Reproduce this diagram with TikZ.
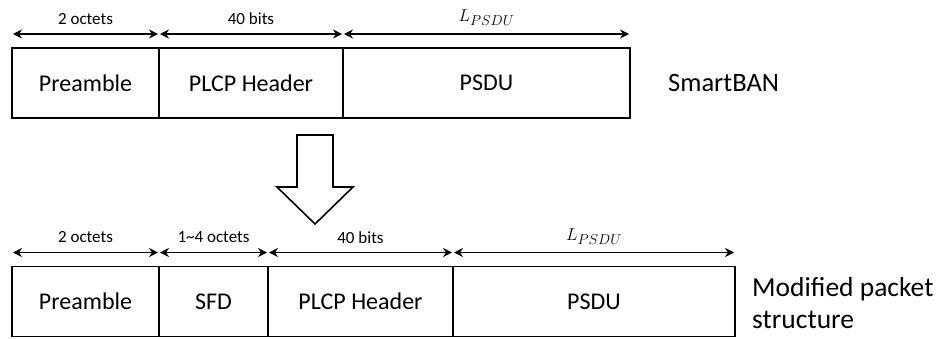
\documentclass[tikz,border=0pt]{standalone}
\usepackage{fontspec}
\setmainfont{Carlito}
\usetikzlibrary{arrows.meta,calc}
\begin{document}
\begin{tikzpicture}[x=1pt,y=-1pt,
  field/.style={draw,line width=1.6pt,minimum height=70pt,inner sep=0pt,outer sep=0pt,font=\fontsize{24}{28}\selectfont},
  dim/.style={line width=1.4pt,{Stealth[length=9pt,width=9pt,inset=3pt]}-{Stealth[length=9pt,width=9pt,inset=3pt]}},
  dimlabel/.style={font=\fontsize{17}{20}\selectfont,inner sep=0pt},
  mathlabel/.style={font=\fontsize{19}{22}\selectfont,inner sep=0pt},
  sidelabel/.style={anchor=west,align=left,inner sep=0pt}]
\useasboundingbox (0,0) rectangle (949,338);
% top row
\node[field,minimum width=147pt] (pre1) at (85.5,83) {Preamble};
\node[field,minimum width=184pt] (hdr1) at (251,83) {PLCP Header};
\node[field,minimum width=287pt] (psdu1) at (486.5,83) {PSDU};
\node[sidelabel,font=\fontsize{26.5}{32}\selectfont] (smart) at (668,83) {SmartBAN};
% top dimension arrows
\coordinate (a1) at ($(pre1.north west)+(0,-14)$);
\coordinate (a2) at ($(pre1.north east)+(0,-14)$);
\coordinate (a3) at ($(hdr1.north east)+(0,-14)$);
\coordinate (a4) at ($(psdu1.north east)+(0,-14)$);
\draw[dim] ($(a1)+(1,0)$) -- ($(a2)+(-1,0)$);
\draw[dim] ($(a2)+(1,0)$) -- ($(a3)+(-1,0)$);
\draw[dim] ($(a3)+(1,0)$) -- ($(a4)+(-1,0)$);
\node[dimlabel] (l1) at ($(a1)!0.5!(a2)+(0,-15)$) {2 octets};
\node[dimlabel] (l2) at ($(a2)!0.5!(a3)+(0,-15)$) {40 bits};
\node[mathlabel] (l3) at ($(a3)!0.5!(a4)+(0,-16)$) {$L_{PSDU}$};
% big arrow
\draw[line width=1.6pt,fill=white] (297,135) -- (333,135) -- (333,187) -- (353,187) -- (315,224) -- (277,187) -- (297,187) -- cycle;
% bottom row
\node[field,minimum width=147pt] (pre2) at (85.5,301.5) {Preamble};
\node[field,minimum width=109pt] (sfd) at (213.5,301.5) {SFD};
\node[field,minimum width=185pt] (hdr2) at (360.5,301.5) {PLCP Header};
\node[field,minimum width=282pt] (psdu2) at (594,301.5) {PSDU};
\node[sidelabel,font=\fontsize{27.5}{32}\selectfont] (mod) at (752,303) {Modified packet\\structure};
\coordinate (b1) at ($(pre2.north west)+(0,-14)$);
\coordinate (b2) at ($(pre2.north east)+(0,-14)$);
\coordinate (b3) at ($(sfd.north east)+(0,-14)$);
\coordinate (b4) at ($(hdr2.north east)+(0,-14)$);
\coordinate (b5) at ($(psdu2.north east)+(0,-14)$);
\draw[dim] ($(b1)+(1,0)$) -- ($(b2)+(-1,0)$);
\draw[dim] ($(b2)+(1,0)$) -- ($(b3)+(-1,0)$);
\draw[dim] ($(b3)+(1,0)$) -- ($(b4)+(-1,0)$);
\draw[dim] ($(b4)+(1,0)$) -- ($(b5)+(-1,0)$);
\node[dimlabel] (m1) at ($(b1)!0.5!(b2)+(0,-15)$) {2 octets};
\node[dimlabel] (m2) at ($(b2)!0.5!(b3)+(0,-15)$) {1\textasciitilde4 octets};
\node[dimlabel] (m3) at ($(b3)!0.5!(b4)+(0,-15)$) {40 bits};
\node[mathlabel] (m4) at ($(b4)!0.5!(b5)+(0,-16)$) {$L_{PSDU}$};
\end{tikzpicture}
\end{document}
